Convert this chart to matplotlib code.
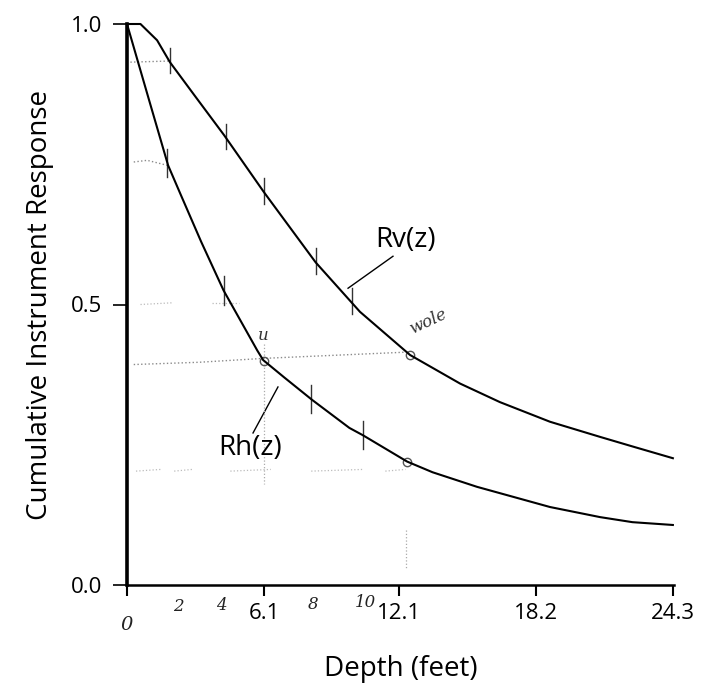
import numpy as np
import matplotlib
matplotlib.use("Agg")
import matplotlib.pyplot as plt

plt.rcParams['font.family'] = ['Open Sans', 'DejaVu Sans']

# ---- data ----
rv_depth = [0, 0.6, 1.34, 1.91, 3.0, 4.32, 6.1, 8.4, 10.37, 12.6, 14.83, 16.6, 18.83, 21.06, 22.5, 24.3]
rv_vals = [1.0, 1.0, 0.971, 0.932, 0.873, 0.802, 0.70, 0.575, 0.487, 0.41, 0.359, 0.326, 0.291, 0.264, 0.247, 0.226]

rh_depth = [0, 1.0, 1.83, 2.4, 3.3, 4.3, 5.8, 6.06, 7.0, 8.24, 9.9, 10.5, 12.47, 13.6, 15.58, 18.83, 21.06, 22.5, 24.3]
rh_vals = [1.0, 0.862, 0.748, 0.695, 0.612, 0.525, 0.418, 0.401, 0.37, 0.330, 0.28, 0.267, 0.220, 0.201, 0.175, 0.139, 0.121, 0.112, 0.107]

x_ticks = [0, 6.1, 12.1, 18.2, 24.3]
x_ticklabels = ["", "6.1", "12.1", "18.2", "24.3"]
y_ticks = [0.0, 0.5, 1.0]
y_ticklabels = ["0.0", "0.5", "1.0"]

hand_labels = ["0", "2", "4", "8", "10"]
hand_label_x = [0.0, 2.27, 4.2, 8.3, 10.6]
hand_label_y = [-0.071, -0.039, -0.036, -0.034, -0.032]

rv_marks = [1.9, 4.4, 6.1, 8.4, 10.0]
rh_marks = [1.8, 4.3, 8.2, 10.5]

# ---- figure ----
fig = plt.figure(figsize=(7.02, 6.88), dpi=100)
ax = fig.add_axes([127/702, 1-585/688, (674-127)/702, (585-24)/688])
ax.set_xlim(0, 24.35)
ax.set_ylim(0, 1.0)

for s in ["top", "right"]:
    ax.spines[s].set_visible(False)
ax.spines["left"].set_linewidth(2.6)
ax.spines["bottom"].set_linewidth(1.8)

ax.plot(rv_depth, rv_vals, color="black", lw=1.5, clip_on=False, zorder=3)
ax.plot(rh_depth, rh_vals, color="black", lw=1.5, clip_on=False, zorder=3)

ax.set_xticks(x_ticks)
ax.set_xticklabels(x_ticklabels, fontsize=16)
ax.set_yticks(y_ticks)
ax.set_yticklabels(y_ticklabels, fontsize=16)
ax.tick_params(axis="y", length=10, width=1.2, pad=8, direction="out")
ax.tick_params(axis="x", length=8, width=1.5, pad=5, direction="out")

ax.set_xlabel("Depth (feet)", fontsize=20, labelpad=22)
ax.set_ylabel("Cumulative Instrument Response", fontsize=20, labelpad=12)

# curve labels and leaders
ax.text(12.4, 0.615, "Rv(z)", fontsize=20, ha="center", va="center")
ax.plot([11.84, 9.84], [0.586, 0.529], color="black", lw=1.0)
ax.text(5.5, 0.244, "Rh(z)", fontsize=20, ha="center", va="center")
ax.plot([5.61, 6.72], [0.271, 0.353], color="black", lw=1.0)

# hand-drawn annotations
grey = "#8a8a8a"
ax.plot([0.15, 1.9], [0.932, 0.934], color=grey, lw=1.0, ls=":")
ax.plot([0.3, 0.9, 1.8], [0.754, 0.757, 0.748], color=grey, lw=1.0, ls=":")
ax.plot([0.3, 3.2, 6.1, 12.4], [0.393, 0.397, 0.404, 0.415], color=grey, lw=1.0, ls=":")
ax.plot([0.6, 2.0], [0.50, 0.503], color="#bbbbbb", lw=0.9, ls=":")
ax.plot([3.8, 5.0], [0.503, 0.503], color="#bbbbbb", lw=0.9, ls=":")
for x0, x1 in [(0.4, 1.5), (2.1, 2.9), (4.6, 6.4), (8.2, 10.5), (11.5, 12.4)]:
    ax.plot([x0, x1], [0.203, 0.206], color="#bbbbbb", lw=0.9, ls=":")
ax.plot([6.1, 6.1], [0.43, 0.18], color="#aaaaaa", lw=0.9, ls=":")
ax.plot([12.4, 12.4], [0.098, 0.03], color="#aaaaaa", lw=0.9, ls=":")

for d in rv_marks:
    yv = np.interp(d, rv_depth, rv_vals)
    ax.plot([d, d], [yv - 0.02, yv + 0.025], color="#333333", lw=1.0)
for d in rh_marks:
    yv = np.interp(d, rh_depth, rh_vals)
    ax.plot([d, d], [yv - 0.025, yv + 0.025], color="#333333", lw=1.0)
for d, dep, vals in [(6.1, rh_depth, rh_vals), (12.6, rv_depth, rv_vals), (12.47, rh_depth, rh_vals)]:
    yv = np.interp(d, dep, vals)
    ax.plot([d], [yv], marker="o", ms=6, mfc="none", mec="#555555", mew=1.0)

ax.text(6.05, 0.445, "u", fontsize=12, style="italic", ha="center", va="center",
        color="#333333", family="DejaVu Serif")
ax.text(13.4, 0.47, "wole", fontsize=12, style="italic", rotation=25, ha="center",
        va="center", color="#333333", family="DejaVu Serif")

for lab, hx, hy in zip(hand_labels, hand_label_x, hand_label_y):
    ax.text(hx, hy, lab, fontsize=12 if lab != "0" else 14, style="italic",
            ha="center", va="center", color="#222222", family="DejaVu Serif",
            clip_on=False)

fig.savefig("out.png", dpi=100)
